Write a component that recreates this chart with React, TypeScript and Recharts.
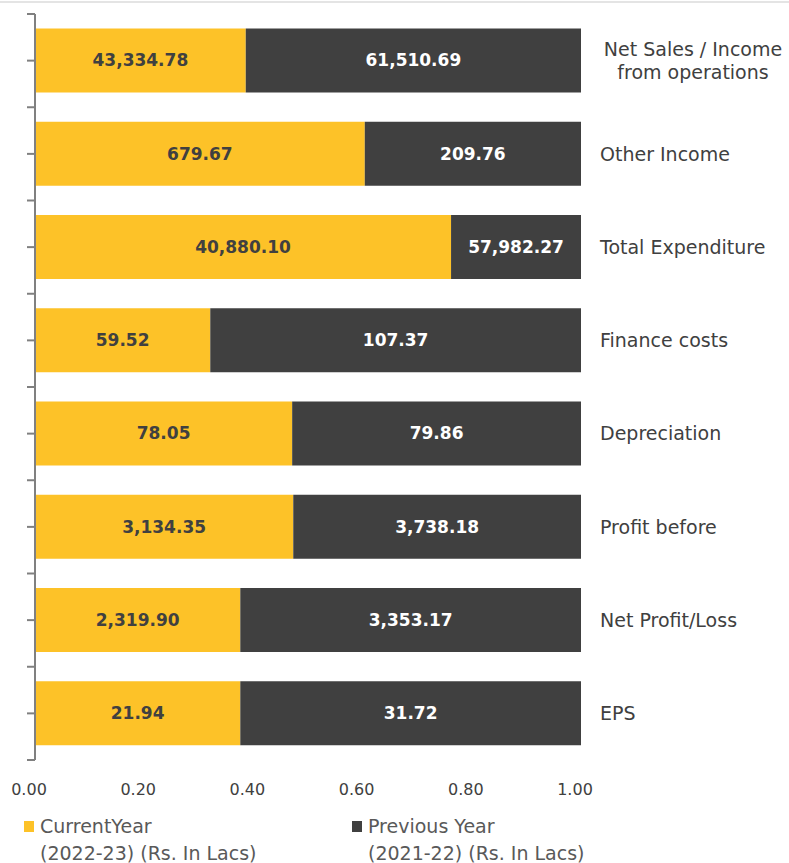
import React from 'react';
import { BarChart, Bar, XAxis, YAxis, Legend, LabelList } from 'recharts';

// categorías y datos
const categories = [
  'Net Sales / Income\nfrom operations',
  'Other Income',
  'Total Expenditure',
  'Finance costs',
  'Depreciation',
  'Profit before',
  'Net Profit/Loss',
  'EPS',
];
const currentShare = [0.386, 0.604, 0.762, 0.321, 0.471, 0.473, 0.376, 0.376];
const previousShare = [0.614, 0.396, 0.238, 0.679, 0.529, 0.527, 0.624, 0.624];
const currentLabels = ['43,334.78', '679.67', '40,880.10', '59.52', '78.05', '3,134.35', '2,319.90', '21.94'];
const previousLabels = ['61,510.69', '209.76', '57,982.27', '107.37', '79.86', '3,738.18', '3,353.17', '31.72'];
const xTicks = [0, 0.2, 0.4, 0.6, 0.8, 1];
const legendItems = [
  { name: 'CurrentYear', sub: '(2022-23) (Rs. In Lacs)' },
  { name: 'Previous Year', sub: '(2021-22) (Rs. In Lacs)' },
];

const YELLOW = '#FDC228';
const DARK = '#404040';
const AXIS = '#808080';
const TEXT = '#404040';
const FONT = '"DejaVu Sans", sans-serif';

const chartData = categories.map((category, i) => ({
  category,
  cur: currentShare[i],
  prev: previousShare[i],
  curLabel: currentLabels[i],
  prevLabel: previousLabels[i],
}));

// marcas del eje: centro de banda y límites
const LeftTick = (props: any) => {
  const { x, y, payload, index } = props;
  const half = payload && payload.offset ? payload.offset : 46.6;
  return (
    <g>
      <line x1={x} x2={x + 8} y1={y - half} y2={y - half} stroke={AXIS} strokeWidth={2} />
      {index === categories.length - 1 && (
        <line x1={x} x2={x + 8} y1={y + half} y2={y + half} stroke={AXIS} strokeWidth={2} />
      )}
    </g>
  );
};

const barLabel = (color: string) => (props: any) => {
  const { x, y, width, height, value } = props;
  return (
    <text
      x={x + width / 2}
      y={y + height / 2}
      textAnchor="middle"
      dominantBaseline="central"
      fill={color}
      fontWeight="bold"
      fontSize={17}
      fontFamily={FONT}
    >
      {value}
    </text>
  );
};

const CategoryLabel = (props: any) => {
  const { x, y, width, height, value } = props;
  const lines = String(value).split('\n');
  const left = x + width + 19;
  const cy = y + height / 2;
  const lineH = 23;
  const multi = lines.length > 1;
  return (
    <text
      fill={TEXT}
      fontSize={19}
      fontFamily={FONT}
      textAnchor={multi ? 'middle' : 'start'}
      dominantBaseline="central"
    >
      {lines.map((line, i) => (
        <tspan key={i} x={multi ? left + 93 : left} y={cy + (i - (lines.length - 1) / 2) * lineH}>
          {line}
        </tspan>
      ))}
    </text>
  );
};

const LegendContent = () => (
  <div style={{ position: 'relative', height: 50, fontFamily: FONT, fontSize: 19, color: '#595959' }}>
    {legendItems.map((item, i) => (
      <div key={item.name} style={{ position: 'absolute', left: i === 0 ? 24 : 352, top: 0 }}>
        <span
          style={{
            position: 'absolute',
            left: 0,
            top: 8,
            width: 10,
            height: 11,
            background: i === 0 ? YELLOW : DARK,
          }}
        />
        <div style={{ marginLeft: 16, lineHeight: '27px', whiteSpace: 'nowrap' }}>
          {item.name}
          <br />
          {item.sub}
        </div>
      </div>
    ))}
  </div>
);

export default function App() {
  return (
    <div style={{ position: 'absolute', left: 0, top: 0, width: 789, height: 863, background: '#fff' }}>
      <div style={{ position: 'absolute', left: 0, top: 1, width: 789, height: 0, borderTop: '2px solid #e4e4e4' }} />
      <BarChart
        width={789}
        height={863}
        data={chartData}
        layout="vertical"
        margin={{ top: 14, right: 208, bottom: 0, left: 27 }}
        barCategoryGap="15.5%"
      >
        <XAxis
          type="number"
          domain={[0, 1]}
          ticks={xTicks}
          axisLine={false}
          tickLine={false}
          height={53}
          tickMargin={18}
          tickFormatter={(v: number) => v.toFixed(2)}
          tick={{ fill: TEXT, fontSize: 16, fontFamily: FONT, dx: -6 }}
        />
        <YAxis
          type="category"
          dataKey="category"
          width={8}
          tickSize={8}
          tickMargin={0}
          axisLine={{ stroke: AXIS, strokeWidth: 2 }}
          tickLine={{ stroke: AXIS, strokeWidth: 2 }}
          tick={<LeftTick />}
        />
        <Legend
          verticalAlign="bottom"
          height={50}
          wrapperStyle={{ left: 0, bottom: 0, width: 789, height: 50 }}
          content={<LegendContent />}
        />
        <Bar dataKey="cur" stackId="a" fill={YELLOW} isAnimationActive={false}>
          <LabelList dataKey="curLabel" content={barLabel(TEXT)} />
        </Bar>
        <Bar dataKey="prev" stackId="a" fill={DARK} isAnimationActive={false}>
          <LabelList dataKey="prevLabel" content={barLabel('#ffffff')} />
          <LabelList dataKey="category" content={<CategoryLabel />} />
        </Bar>
      </BarChart>
    </div>
  );
}
